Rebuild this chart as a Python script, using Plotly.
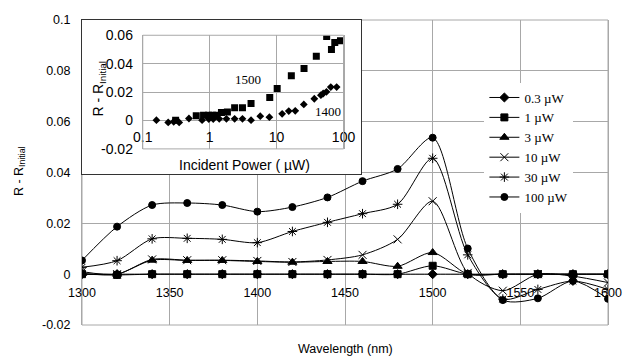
import plotly.graph_objects as go

# ---------------- main chart data ----------------
wavelength = [1300, 1320, 1340, 1360, 1380, 1400, 1420, 1440, 1460, 1480,
              1500, 1520, 1540, 1560, 1580, 1600]
p_03uW = [0, 0, 0, 0, 0, 0, 0, 0, 0, 0, 0, 0, 0, 0, 0, 0]
p_1uW = [0, -0.0003, 0, 0, 0, 0, 0, 0, 0, 0, 0.0033, 0, 0, 0, 0, 0]
p_3uW = [0.0003, 0, 0.0055, 0.0054, 0.0054, 0.0050, 0.0047, 0.0050, 0.0050, 0.0031,
         0.0085, 0, 0, 0, 0, 0]
p_10uW = [0.0010, 0, 0.0058, 0.0055, 0.0055, 0.0052, 0.0048, 0.0056, 0.0076, 0.0137,
          0.0287, 0.0005, -0.0065, 0, -0.0008, -0.0033]
p_30uW = [0.0027, 0.0053, 0.0139, 0.0141, 0.0137, 0.0124, 0.0168, 0.0204, 0.0238, 0.0275,
          0.0456, 0.0076, -0.0098, -0.0060, -0.0027, -0.0060]
p_100uW = [0.0054, 0.0187, 0.0272, 0.0280, 0.0272, 0.0246, 0.0264, 0.0302, 0.0366, 0.0414,
           0.0537, 0.0101, -0.0102, -0.0095, -0.0027, -0.0097]
series_names = ["0.3 µW", "1 µW", "3 µW", "10 µW", "30 µW", "100 µW"]

main_xticks = [1300, 1350, 1400, 1450, 1500, 1550, 1600]
main_yticks = [-0.02, 0, 0.02, 0.04, 0.06, 0.08, 0.1]
main_yticktext = ["-0.02", "0", "0.02", "0.04", "0.06", "0.08", "0.1"]

# ---------------- inset data ----------------
power_1500 = [0.31, 0.63, 0.81, 0.96, 1.1, 1.27, 1.5, 1.84, 2.36, 3.09, 4.15, 7.9,
              10.2, 16.6, 25.7, 39.2, 56, 66, 74, 90]
dR_1500 = [0.0002, 0.0033, 0.0037, 0.0037, 0.0037, 0.0037, 0.0056, 0.0060, 0.0089,
           0.0089, 0.0120, 0.0162, 0.0225, 0.0315, 0.0366, 0.0453, 0.0592, 0.0500,
           0.0549, 0.0561]
power_1400 = [0.16, 0.24, 0.29, 0.35, 0.49, 0.77, 0.97, 1.13, 1.39, 1.78, 2.36, 3.09,
              4.15, 5.7, 7.8, 12.1, 15.2, 19, 25.5, 36.6, 45.9, 49.7, 55.6, 64.5, 78.9]
dR_1400 = [0.0002, -0.0014, -0.0009, -0.0014, 0.0014, 0.0002, 0.0010, 0.0010, 0.0012,
           0.0012, 0.0012, 0.0012, 0.0002, 0.0030, 0.0023, 0.0047, 0.0066, 0.0068,
           0.0113, 0.0153, 0.0178, 0.0190, 0.0202, 0.0235, 0.0235]
inset_xticks = [0.1, 1, 10, 100]
inset_xticktext = ["0.1", "1", "10", "100"]
inset_yticks = [-0.02, 0, 0.02, 0.04, 0.06]
inset_yticktext = ["-0.02", "0", "0.02", "0.04", "0.06"]

SANS = "Liberation Sans"
SERIF = "Liberation Serif"
GRID = "#a8a8a8"

fig = go.Figure()

styles = [("diamond", 7), ("square", 7), ("triangle-up", 8),
          ("x-thin-open", 8), ("asterisk-open", 8), ("circle", 7)]
for name, vals, (sym, sz) in zip(series_names,
                                 [p_03uW, p_1uW, p_3uW, p_10uW, p_30uW, p_100uW],
                                 styles):
    fig.add_trace(go.Scatter(
        x=wavelength, y=vals, name=name, mode="lines+markers",
        line=dict(color="black", width=1, shape="spline", smoothing=0.8),
        marker=dict(symbol=sym, size=sz, color="black",
                    line=dict(color="black", width=1)),
        xaxis="x", yaxis="y"))

# frame subplot for the inset box
fig.add_trace(go.Scatter(x=[None], y=[None], xaxis="x2", yaxis="y2",
                         showlegend=False, hoverinfo="skip"))

fig.add_trace(go.Scatter(x=power_1500, y=dR_1500, mode="markers", showlegend=False,
                         marker=dict(symbol="square", size=7, color="black"),
                         xaxis="x3", yaxis="y3"))
fig.add_trace(go.Scatter(x=power_1400, y=dR_1400, mode="markers", showlegend=False,
                         marker=dict(symbol="diamond", size=6, color="black"),
                         xaxis="x3", yaxis="y3"))

fig.update_layout(
    width=634, height=358,
    margin=dict(l=82, r=15, t=15, b=33),
    paper_bgcolor="white", plot_bgcolor="white",
    font=dict(family=SANS, color="black", size=12.5),
    xaxis=dict(range=[1300, 1600], tickvals=main_xticks, anchor="free", position=0.1667,
               showgrid=True, gridcolor=GRID, gridwidth=1, zeroline=False, showline=False,
               ticks="outside", ticklen=7, tickcolor="rgba(0,0,0,0)",
               tickfont=dict(family=SANS, size=12.5, color="black")),
    yaxis=dict(range=[-0.02, 0.1], tickvals=main_yticks, ticktext=main_yticktext,
               showgrid=True, gridcolor=GRID, gridwidth=1, zeroline=False,
               showline=True, mirror=True, linecolor=GRID, linewidth=1,
               ticks="outside", ticklen=8, tickcolor="rgba(0,0,0,0)",
               tickfont=dict(family=SANS, size=12.5, color="black")),
    xaxis2=dict(domain=[0, 0.5307], anchor="y2", range=[0, 1], showline=True, mirror=True,
                linecolor="#333333", linewidth=1, showgrid=False, zeroline=False,
                showticklabels=False, ticks=""),
    yaxis2=dict(domain=[0.4935, 1.0], anchor="x2", range=[0, 1], showline=True, mirror=True,
                linecolor="#333333", linewidth=1, showgrid=False, zeroline=False,
                showticklabels=False, ticks=""),
    xaxis3=dict(domain=[0.1155, 0.4972], type="log", range=[-1, 2], anchor="free",
                position=0.671, tickvals=inset_xticks, ticktext=inset_xticktext,
                showgrid=True, gridcolor=GRID, gridwidth=1, zeroline=False, showline=False,
                ticks="outside", ticklen=4, tickcolor="rgba(0,0,0,0)",
                tickfont=dict(family=SANS, size=14, color="black")),
    yaxis3=dict(domain=[0.5774, 0.95], anchor="x3", range=[-0.02, 0.06],
                tickvals=inset_yticks, ticktext=inset_yticktext,
                showgrid=True, gridcolor=GRID, gridwidth=1, zeroline=False,
                showline=True, mirror=True, linecolor=GRID, linewidth=1,
                ticks="outside", ticklen=6, tickcolor="rgba(0,0,0,0)",
                tickfont=dict(family=SANS, size=14, color="black")),
    legend=dict(x=0.765, y=0.795, xanchor="left", yanchor="top", bgcolor="white",
                borderwidth=0, font=dict(family=SERIF, size=13, color="black"),
                tracegroupgap=0),
    shapes=[
        dict(type="rect", xref="x domain", yref="y domain", x0=0, x1=1, y0=0, y1=1,
             line=dict(color=GRID, width=1), layer="below"),
        dict(type="rect", xref="x3 domain", yref="y3 domain", x0=0, x1=1, y0=0, y1=1,
             line=dict(color=GRID, width=1), layer="above"),
    ],
    annotations=[
        dict(text="Wavelength (nm)", xref="paper", yref="paper", x=0.5, y=-0.0774,
             xanchor="center", yanchor="middle", showarrow=False,
             font=dict(family=SANS, size=12.5)),
        dict(text="R - R<sub>Initial</sub>", xref="paper", yref="paper", x=-0.119, y=0.506,
             xanchor="center", yanchor="middle", showarrow=False, textangle=-90,
             font=dict(family=SANS, size=12.5)),
        dict(text="Incident Power ( µW)", xref="paper", yref="paper", x=0.309, y=0.526,
             xanchor="center", yanchor="middle", showarrow=False,
             font=dict(family=SANS, size=14)),
        dict(text="R - R<sub>Initial</sub>", xref="paper", yref="paper", x=0.0317, y=0.774,
             xanchor="center", yanchor="middle", showarrow=False, textangle=-90,
             font=dict(family=SANS, size=14)),
        dict(text="1500", xref="x3", yref="y3", x=0.58, y=0.029, showarrow=False,
             xanchor="center", yanchor="middle", font=dict(family=SERIF, size=13)),
        dict(text="1400", xref="x3", yref="y3", x=1.773, y=0.006, showarrow=False,
             xanchor="center", yanchor="middle", font=dict(family=SERIF, size=13)),
    ],
)

fig.write_html("out.html")
